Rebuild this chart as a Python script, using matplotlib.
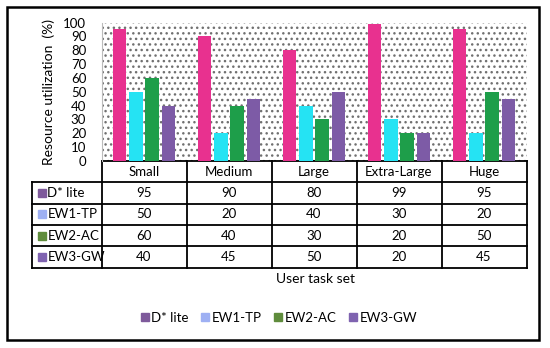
import matplotlib
matplotlib.use("Agg")
import matplotlib.pyplot as plt
from matplotlib.patches import Rectangle
from matplotlib.lines import Line2D
import numpy as np

categories = ["Small", "Medium", "Large", "Extra-Large", "Huge"]
series_names = ["D* lite", "EW1-TP", "EW2-AC", "EW3-GW"]
d_lite = [95, 90, 80, 99, 95]
ew1_tp = [50, 20, 40, 30, 20]
ew2_ac = [60, 40, 30, 20, 50]
ew3_gw = [40, 45, 50, 20, 45]
yticks = list(range(0, 101, 10))

series = [d_lite, ew1_tp, ew2_ac, ew3_gw]
bar_colors = ["#E8318F", "#25E3F3", "#1E9E4A", "#7D5BA6"]
key_colors = ["#7E5A9B", "#9EB0F3", "#5F8C3C", "#7F63B0"]

plt.rcParams['font.family'] = ['Lato', 'DejaVu Sans']
plt.rcParams['hatch.linewidth'] = 1.0
W, H = 550, 348
fig = plt.figure(figsize=(W / 100, H / 100), dpi=100)

# outer border
fig.patches.append(Rectangle((7 / W, 1 - 340 / H), (539 - 7) / W, (340 - 7) / H,
                             transform=fig.transFigure, fill=False, edgecolor="black",
                             linewidth=1.8, zorder=10))

ax_l, ax_r, ax_t, ax_b = 101.5, 526.5, 22.5, 161
ax = fig.add_axes([ax_l / W, 1 - ax_b / H, (ax_r - ax_l) / W, (ax_b - ax_t) / H])
n = len(categories)
x = np.arange(n)
ax.set_xlim(-0.5, n - 0.5)
ax.set_ylim(0, 100)

# hatched background
bg = Rectangle((0, 0), 1, 1, transform=ax.transAxes, facecolor="white",
               edgecolor="#707070", hatch="...", linewidth=0, zorder=0)
ax.add_patch(bg)

spacing = 0.19
width = 0.155
for i, (vals, c) in enumerate(zip(series, bar_colors)):
    ax.bar(x + (i - 1.5) * spacing, vals, width=width, color=c, zorder=3)

ax.set_yticks(yticks)
ax.tick_params(axis='y', length=0, labelsize=9.5, pad=11)
ax.set_xticks([])
for s in ["top", "right", "bottom"]:
    ax.spines[s].set_visible(False)
ax.spines["left"].set_color("#BBBBBB")
ax.spines["left"].set_linewidth(0.8)
ax.set_ylabel("Resource utilization  (%)", fontsize=10, labelpad=6)

# table below axes
row_h = 21.3  # px
def ypx_to_ax(ypx):
    return (ax_b - ypx) / (ax_b - ax_t)

trans = ax.get_xaxis_transform()
lw = 1.3
table_left_px = 32
left_data = -0.5 - (ax_l - table_left_px) / (ax_r - ax_l) * n
y_header_bot = ax_b + row_h
y_bottom = ax_b + row_h * 5
ax.add_line(Line2D([-0.5, n - 0.5], [ypx_to_ax(ax_b)] * 2, transform=trans, color="black", lw=lw, clip_on=False))
for r in range(1, 6):
    yy = ypx_to_ax(ax_b + row_h * r)
    ax.add_line(Line2D([left_data, n - 0.5], [yy] * 2, transform=trans, color="black", lw=lw, clip_on=False))
for k in range(n + 1):
    xx = -0.5 + k
    ax.add_line(Line2D([xx, xx], [ypx_to_ax(ax_b), ypx_to_ax(y_bottom)], transform=trans,
                       color="black", lw=lw, clip_on=False))
ax.add_line(Line2D([left_data, left_data], [ypx_to_ax(y_header_bot), ypx_to_ax(y_bottom)],
                   transform=trans, color="black", lw=lw, clip_on=False))

for j, cat in enumerate(categories):
    ax.text(j, ypx_to_ax(ax_b + row_h * 0.5), cat, transform=trans, ha="center",
            va="center", fontsize=9.5)
for i, (name, vals) in enumerate(zip(series_names, series)):
    yc = ypx_to_ax(ax_b + row_h * (i + 1.5))
    for j, v in enumerate(vals):
        ax.text(j, yc, str(v), transform=trans, ha="center", va="center", fontsize=9.5)
    ax.plot([left_data + 0.12], [yc], marker="s", markersize=5.5, color=key_colors[i],
            transform=trans, clip_on=False, linestyle="none")
    ax.text(left_data + 0.18, yc, name, transform=trans, ha="left", va="center", fontsize=9.5)

fig.text(315 / W, 1 - 279 / H, "User task set", ha="center", va="center", fontsize=10)

handles = [Line2D([], [], marker="s", linestyle="none", color=c, markersize=5.5) for c in key_colors]
fig.legend(handles, series_names, loc="center", bbox_to_anchor=(278 / W, 1 - 318 / H),
           ncol=4, frameon=False, fontsize=9.5, handletextpad=0.05, columnspacing=0.8,
           handlelength=0.9)

fig.savefig("out.png", dpi=100)
